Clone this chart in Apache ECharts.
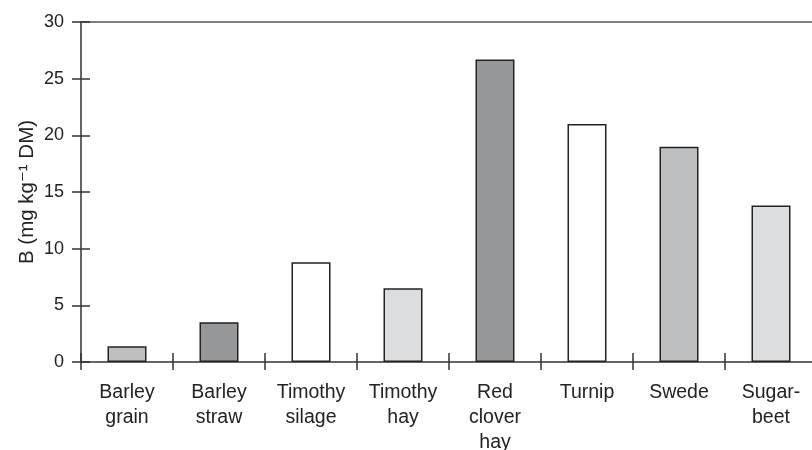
<!DOCTYPE html>
<html>
<head>
<meta charset="utf-8">
<script src="https://cdn.jsdelivr.net/npm/echarts@6/dist/echarts.min.js"></script>
<style>html,body{margin:0;padding:0;background:#fff}#c{width:812px;height:450px}</style>
</head>
<body>
<div id="c"></div>
<script>
const categories = ['Barley\ngrain', 'Barley\nstraw', 'Timothy\nsilage', 'Timothy\nhay', 'Red\nclover\nhay', 'Turnip', 'Swede', 'Sugar-\nbeet'];
const values = [1.4, 3.5, 8.8, 6.5, 26.7, 21.0, 19.0, 13.8];
const barColors = ['#bebfc1', '#969798', '#ffffff', '#dcdddf', '#969798', '#ffffff', '#bebfc1', '#dcdddf'];
const yTicks = [0, 5, 10, 15, 20, 25, 30];

const font = 'Liberation Sans, Arial, DejaVu Sans, sans-serif';
const chart = echarts.init(document.getElementById('c'));
const lineStyle = { color: '#333', width: 1.5 };
chart.setOption({
  animation: false,
  grid: { left: 81, top: 22, bottom: 88, right: -5, containLabel: false, outerBoundsMode: 'none' },
  xAxis: [
    {
      type: 'category', data: categories, position: 'bottom',
      axisLine: { lineStyle: lineStyle },
      axisTick: { show: true, length: 8, lineStyle: lineStyle },
      axisLabel: { color: '#222', fontSize: 19.5, fontFamily: font, lineHeight: 25, margin: 18, interval: 0 }
    },
    {
      type: 'category', data: categories, position: 'bottom',
      axisLine: { show: false },
      axisTick: { show: true, inside: true, length: 9, lineStyle: lineStyle },
      axisLabel: { show: false }
    },
    {
      type: 'category', data: categories, position: 'top',
      axisLine: { show: true, lineStyle: { color: '#555', width: 1.7 } },
      axisTick: { show: false },
      axisLabel: { show: false }
    }
  ],
  yAxis: [
    {
      type: 'value', min: yTicks[0], max: yTicks[yTicks.length - 1], interval: 5,
      name: 'B (mg kg\u207B\u00B9 DM)', nameLocation: 'middle', nameGap: 43, nameMoveOverlap: false,
      nameTextStyle: { color: '#222', fontSize: 20.5, fontFamily: font },
      axisLine: { show: true, lineStyle: lineStyle },
      axisTick: { show: true, length: 9, lineStyle: lineStyle },
      axisLabel: { color: '#222', fontSize: 18, fontFamily: font, margin: 17 },
      splitLine: { show: false }
    },
    {
      type: 'value', min: yTicks[0], max: yTicks[yTicks.length - 1], interval: 5, position: 'left',
      axisLine: { show: false },
      axisTick: { show: true, inside: true, length: 9, lineStyle: lineStyle },
      axisLabel: { show: false },
      splitLine: { show: false }
    }
  ],
  series: [{
    type: 'bar',
    xAxisIndex: 0, yAxisIndex: 0,
    barWidth: 39,
    data: values.map((v, i) => ({ value: v, itemStyle: { color: barColors[i] } })),
    itemStyle: { borderColor: '#222', borderWidth: 1.5 }
  }]
});
</script>
</body>
</html>
